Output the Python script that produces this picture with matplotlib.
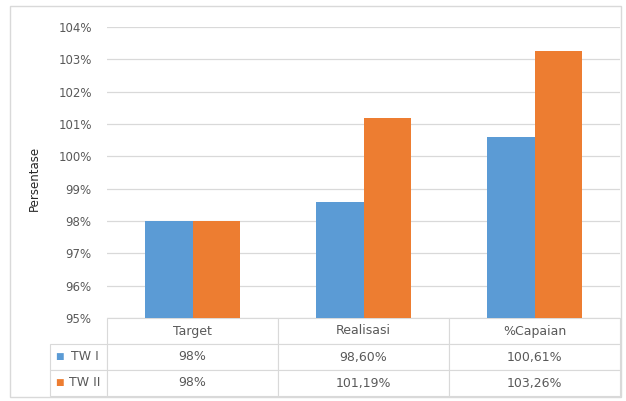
# bar chart with a data table underneath (excel style)
import matplotlib.pyplot as plt
from matplotlib.patches import Rectangle

kategori = ["Target", "Realisasi", "%Capaian"]
tw1 = [98.0, 98.60, 100.61]
tw2 = [98.0, 101.19, 103.26]
label_tw1 = ["98%", "98,60%", "100,61%"]
label_tw2 = ["98%", "101,19%", "103,26%"]
seri = ["TW I", "TW II"]
yticks = [95, 96, 97, 98, 99, 100, 101, 102, 103, 104]

biru = "#5B9BD5"
oranye = "#ED7D31"
abu = "#595959"

fig = plt.figure(figsize=(6.26, 4.01), dpi=100)
ax = fig.add_axes([107 / 626, 83 / 401, 513 / 626, 291 / 401])

x = range(len(kategori))
w = 0.28
ax.bar([i - w / 2 for i in x], [v - 95 for v in tw1], w, bottom=95, color=biru, zorder=3)
ax.bar([i + w / 2 for i in x], [v - 95 for v in tw2], w, bottom=95, color=oranye, zorder=3)

ax.set_xlim(-0.5, 2.5)
ax.set_ylim(95, 104)
ax.set_yticks(yticks)
ax.set_yticklabels([f"{t}%" for t in yticks], fontsize=8.5, color=abu)
ax.set_xticks([])
ax.tick_params(axis="y", length=0, pad=11)
ax.grid(axis="y", color="#D9D9D9", linewidth=0.9, zorder=0)
for s in ax.spines.values():
    s.set_visible(False)
ax.set_ylabel("Persentase", fontsize=8.5, color="#262626")
ax.yaxis.set_label_coords(-66 / 513, 0.48)

# tabel data (kolom pertama = nama seri)
isi = [[""] + kategori,
       ["   " + seri[0]] + label_tw1,
       ["   " + seri[1]] + label_tw2]
tabel = ax.table(cellText=isi, cellLoc="center",
                 colWidths=[57, 171, 171, 171],
                 bbox=[-57 / 513, -78 / 291, 570 / 513, 78 / 291])
tabel.auto_set_font_size(False)
for (r, c), cell in tabel.get_celld().items():
    cell.set_edgecolor("#D9D9D9")
    cell.set_linewidth(0.8)
    cell.get_text().set_fontsize(9)
    cell.get_text().set_color(abu)
    if c == 0:
        cell._loc = "left"
        cell.PAD = 0.02
tabel[0, 0].visible_edges = ""

# kotak warna legenda di tabel
for warna, yy in [(biru, -38.5 / 291), (oranye, -65 / 291)]:
    ax.text(-52 / 513, yy, "■", color=warna, fontsize=6.5, va="center", ha="left",
            transform=ax.transAxes)

# bingkai luar
fig.patches.append(Rectangle((10 / 626, 4 / 401), 611 / 626, 391 / 401,
                             transform=fig.transFigure, fill=False,
                             edgecolor="#D9D9D9", linewidth=1))

fig.savefig("out.png", dpi=100)
